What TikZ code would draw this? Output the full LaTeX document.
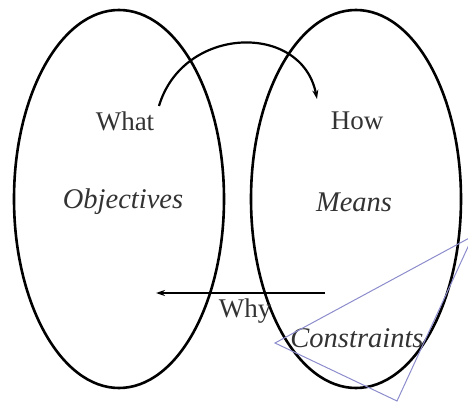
\documentclass[tikz,border=0pt]{standalone}
\usepackage{fontspec}
\setmainfont{Liberation Serif}
\usetikzlibrary{shapes.geometric,arrows.meta}
\definecolor{constrblue}{RGB}{140,140,205}
\begin{document}
\begin{tikzpicture}[x=1pt,y=-1pt,
  oval/.style={draw=black,line width=2.6pt,ellipse,inner sep=0pt,minimum width=210pt,minimum height=378pt},
  lbl/.style={font=\fontsize{27}{30}\selectfont,text=black!80,inner sep=0pt},
  ilbl/.style={lbl,font=\fontsize{28.5}{31}\selectfont\itshape},
  conn/.style={line width=2.2pt,-{Stealth[length=9pt,width=6pt]}}]
\useasboundingbox (0,0) rectangle (468,406);
\node[oval] (objE) at (119,199) {};
\node[oval] (meansE) at (356,199) {};
\node[lbl] (what) at (125,121) {What};
\node[lbl] (how) at (357,121) {How};
\node[ilbl] (obj) at (123,202) {Objectives};
\node[ilbl] (means) at (354,202) {Means};
\node[lbl] (why) at (245,311) {Why};
\node[ilbl] (constr) at (357,338) {Constraints};
\coordinate (arcS) at (159,106);
\coordinate (arcE) at (317,99);
\coordinate (whyS) at (325,293);
\coordinate (whyE) at (156,293);
\draw[conn] (arcS) .. controls (183,25) and (302,22) .. (arcE);
\draw[conn] (whyS) -- (whyE);
\begin{scope}
\clip (0,0) rectangle (468,406);
\coordinate (q1) at (275,343);
\coordinate (q2) at (473,236);
\coordinate (q3) at (397,401);
\draw[constrblue,line width=1pt] (q1) -- (q2) -- (q3) -- cycle;
\end{scope}
\end{tikzpicture}
\end{document}
